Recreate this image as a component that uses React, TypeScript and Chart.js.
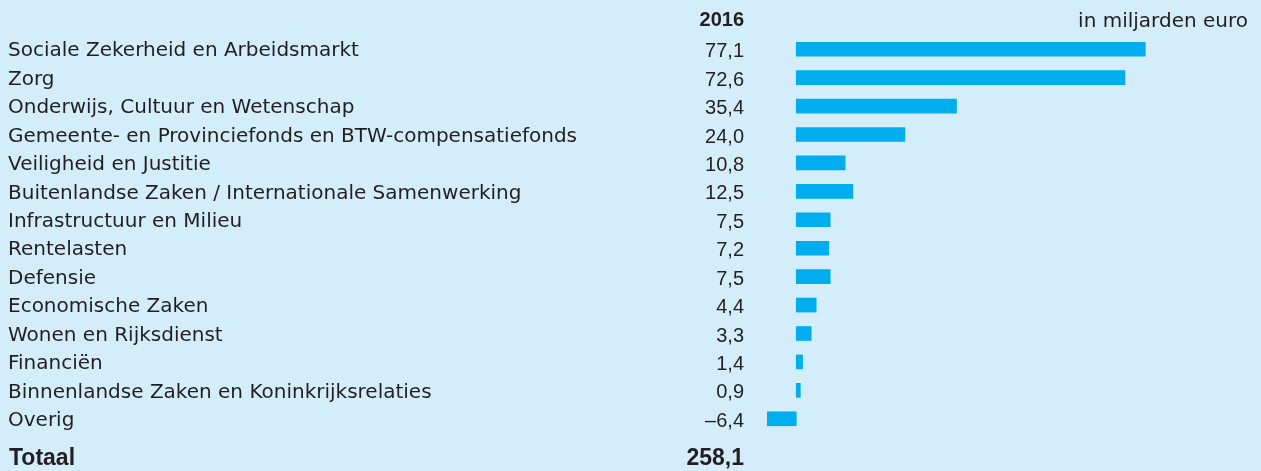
import React, { useEffect, useRef } from "react";
import { Chart, registerables } from "chart.js";

Chart.register(...registerables);

const categories: string[] = [
  "Sociale Zekerheid en Arbeidsmarkt",
  "Zorg",
  "Onderwijs, Cultuur en Wetenschap",
  "Gemeente- en Provinciefonds en BTW-compensatiefonds",
  "Veiligheid en Justitie",
  "Buitenlandse Zaken / Internationale Samenwerking",
  "Infrastructuur en Milieu",
  "Rentelasten",
  "Defensie",
  "Economische Zaken",
  "Wonen en Rijksdienst",
  "Financiën",
  "Binnenlandse Zaken en Koninkrijksrelaties",
  "Overig",
];

const values2016: number[] = [77.1, 72.6, 35.4, 24.0, 10.8, 12.5, 7.5, 7.2, 7.5, 4.4, 3.3, 1.4, 0.9, -6.4];

const totalLabel = "Totaal";
const totalValue = 258.1;
const yearLabel = "2016";
const unitLabel = "in miljarden euro";

const BG = "#d3eefa";
const BAR = "#00aeef";
const TEXT = "#231f20";
const LABEL_FONT = "'DejaVu Sans', sans-serif";
const NUM_FONT = "'Liberation Sans', Arial, sans-serif";

const fmt = (v: number) => {
  const s = Math.abs(v).toFixed(1).replace(".", ",");
  return v < 0 ? "\u2013" + s : s;
};

export default function App() {
  const ref = useRef<HTMLCanvasElement | null>(null);

  useEffect(() => {
    document.body.style.margin = "0";
    document.body.style.background = BG;
    const canvas = ref.current!;
    const textPlugin = {
      id: "textCols",
      afterDraw(chart: any) {
        const { ctx, chartArea, scales } = chart;
        const y = scales.y;
        const valueRight = chartArea.left - 7;
        const pitch = y.getPixelForValue(1) - y.getPixelForValue(0);
        ctx.save();
        ctx.fillStyle = TEXT;
        ctx.textBaseline = "alphabetic";
        ctx.textAlign = "right";
        ctx.font = `20px ${NUM_FONT}`;
        values2016.forEach((v, i) => {
          ctx.fillText(fmt(v), valueRight, y.getPixelForValue(i) + 8);
        });
        const headerBase = y.getPixelForValue(0) - pitch * 0.8;
        ctx.font = `bold 20px ${NUM_FONT}`;
        ctx.fillText(yearLabel, valueRight, headerBase);
        ctx.font = `20px ${LABEL_FONT}`;
        ctx.fillText(unitLabel, chartArea.right - 1, headerBase + 0.5);
        const totalBase = y.getPixelForValue(values2016.length - 1) + pitch * 1.61;
        ctx.font = `bold 23px ${NUM_FONT}`;
        ctx.fillText(fmt(totalValue), valueRight, totalBase);
        ctx.textAlign = "left";
        ctx.fillText(totalLabel, 9, totalBase);
        ctx.restore();
      },
    };
    const chart = new Chart(canvas, {
      type: "bar",
      data: {
        labels: categories,
        datasets: [
          {
            data: values2016,
            backgroundColor: BAR,
            borderWidth: 0,
            barThickness: 14,
          },
        ],
      },
      options: {
        indexAxis: "y",
        animation: false,
        responsive: false,
        maintainAspectRatio: false,
        layout: { padding: { left: 8, right: 12, top: 35, bottom: 38 } },
        plugins: { legend: { display: false }, tooltip: { enabled: false } },
        scales: {
          x: {
            min: -10,
            max: 100,
            display: false,
            grid: { display: false },
          },
          y: {
            grid: { display: false, drawTicks: false },
            border: { display: false },
            ticks: {
              color: TEXT,
              font: { family: LABEL_FONT, size: 20 },
              crossAlign: "far",
              padding: 0,
              labelOffset: 2,
            },
            afterFit: (scale: any) => {
              scale.width = 743;
            },
          },
        },
      },
      plugins: [textPlugin],
    });
    return () => chart.destroy();
  }, []);

  return (
    <div style={{ width: 1261, height: 471, background: BG }}>
      <canvas ref={ref} width={1261} height={471} style={{ display: "block" }} />
    </div>
  );
}
